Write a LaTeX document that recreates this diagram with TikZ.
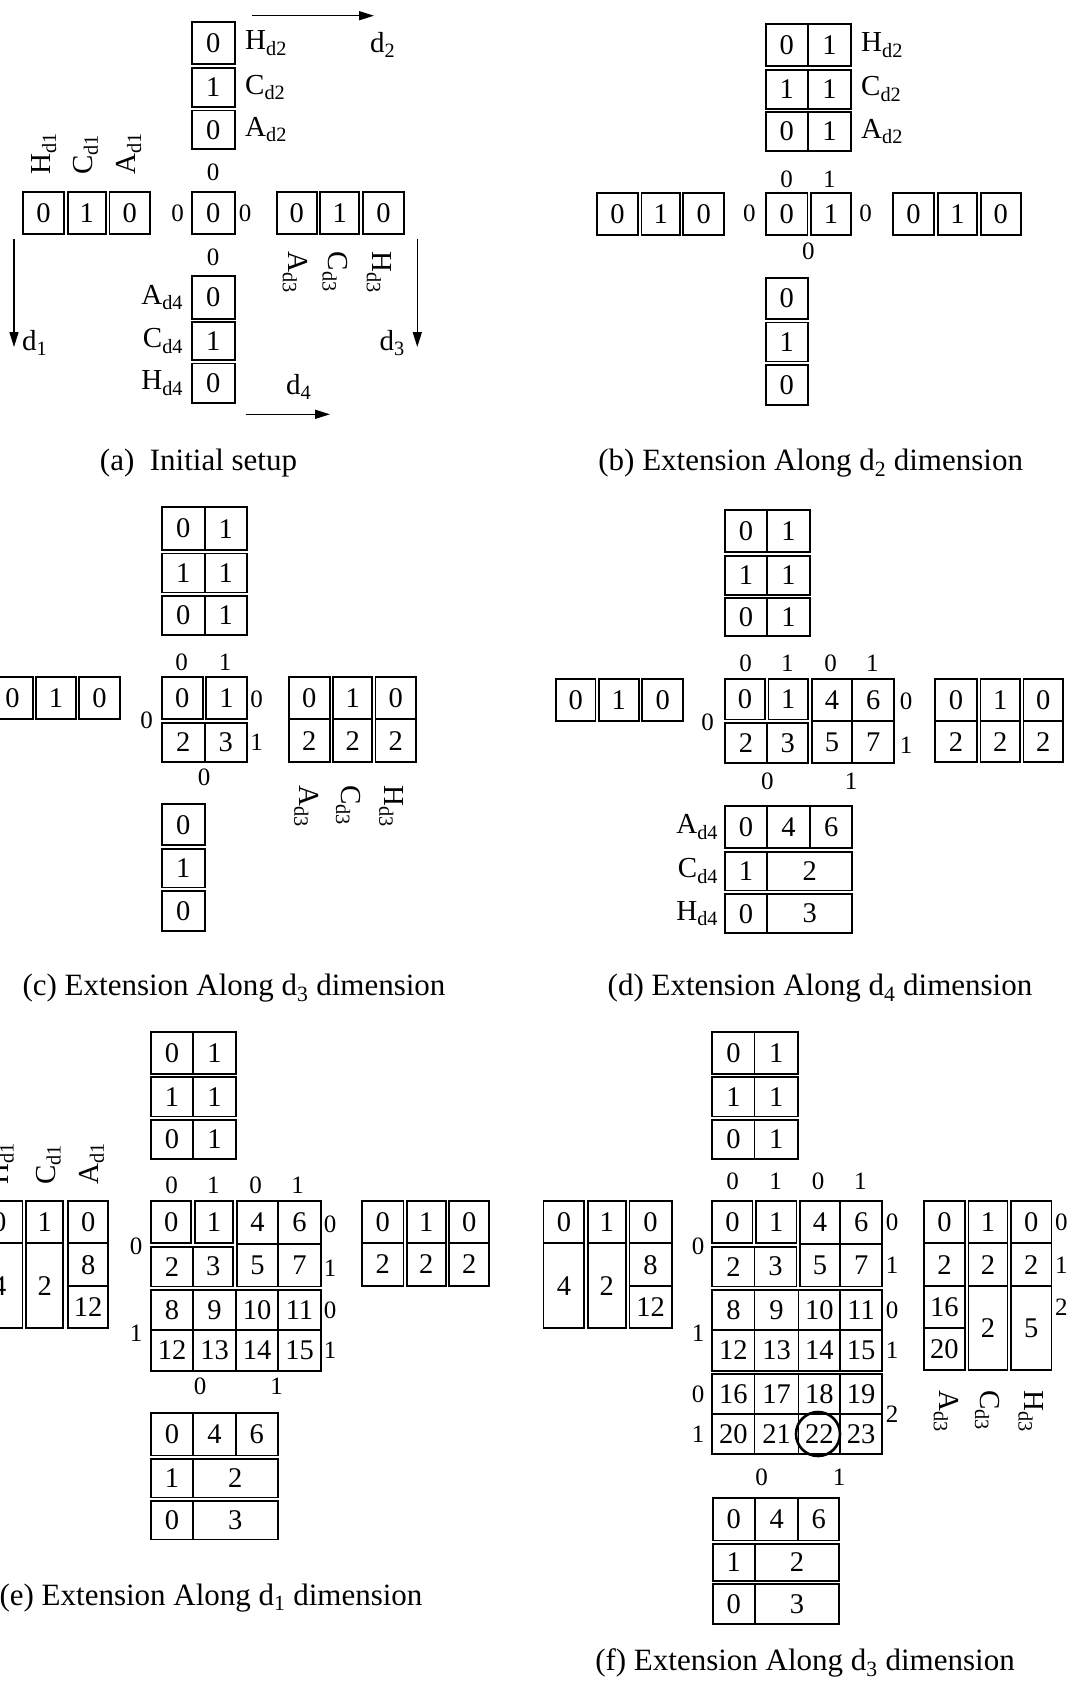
\documentclass[tikz,border=0pt]{standalone}
\usepackage{fontspec}
\setmainfont{Liberation Serif}
\usetikzlibrary{arrows.meta}

% one cell: name, x1, y1, x2, y2, text
\newcommand{\cel}[6]{%
  \pgfmathsetmacro{\celw}{#4-(#2)}%
  \pgfmathsetmacro{\celh}{#5-(#3)}%
  \node[cellbox,minimum width=\celw pt,minimum height=\celh pt] (#1) at ({(#2+#4)/2},{(#3+#5)/2}) {#6};}

\begin{document}
\begin{tikzpicture}[x=1pt,y=-1pt,
  cellbox/.style={draw,line width=1.7pt,inner sep=0pt,font=\fontsize{28.5}{28.5}\selectfont},
  idx/.style={inner sep=0pt,font=\fontsize{25}{25}\selectfont},
  dimlab/.style={inner sep=0pt,font=\fontsize{29}{29}\selectfont},
  captxt/.style={inner sep=0pt,font=\fontsize{31}{31}\selectfont},
  dirarrow/.style={-{Triangle[length=15pt,width=9pt]},line width=1.5pt},
  ring/.style={draw,circle,line width=2.6pt,minimum size=44pt,inner sep=0pt}
]
\useasboundingbox (0,0) rectangle (1073,1682);

% (a) initial setup
\cel{aH2}{191.7}{21.7}{235}{64.3}{0}
\cel{aC2}{191.7}{67.7}{235}{107}{1}
\cel{aA2}{191.7}{110.4}{235}{149}{0}
\node[dimlab,anchor=west] (aH2l) at (245,43) {H\textsubscript{d2}};
\node[dimlab,anchor=west] (aC2l) at (245,87.4) {C\textsubscript{d2}};
\node[dimlab,anchor=west] (aA2l) at (245,129.5) {A\textsubscript{d2}};
\node[idx] (aTop) at (213,172) {0};
\cel{aMid}{191.7}{191.7}{235}{234.3}{0}
\node[idx] (aLeft) at (177.5,213) {0};
\node[idx] (aRight) at (245,213) {0};
\node[idx] (aBot) at (213,257) {0};
\cel{aH1}{22.7}{191.7}{64.3}{234.3}{0}
\cel{aC1}{67.7}{191.7}{106}{234.3}{1}
\cel{aA1}{109.4}{191.7}{150}{234.3}{0}
\node[dimlab,rotate=90,anchor=west] (aH1l) at (44,175) {H\textsubscript{d1}};
\node[dimlab,rotate=90,anchor=west] (aC1l) at (85.5,175) {C\textsubscript{d1}};
\node[dimlab,rotate=90,anchor=west] (aA1l) at (129,175) {A\textsubscript{d1}};
\cel{aA3}{276.7}{191.7}{316.7}{234.3}{0}
\cel{aC3}{320.1}{191.7}{359.3}{234.3}{1}
\cel{aH3}{362.7}{191.7}{404.3}{234.3}{0}
\node[dimlab,rotate=-90,anchor=west] (aA3l) at (295,251.7) {A\textsubscript{d3}};
\node[dimlab,rotate=-90,anchor=west] (aC3l) at (335,251.7) {C\textsubscript{d3}};
\node[dimlab,rotate=-90,anchor=west] (aH3l) at (379,251.7) {H\textsubscript{d3}};
\cel{aA4}{191.7}{276}{235}{318.7}{0}
\cel{aC4}{191.7}{322.1}{235}{360}{1}
\cel{aH4}{191.7}{363.4}{235}{403.3}{0}
\node[dimlab,anchor=east] (aA4l) at (183.3,297.3) {A\textsubscript{d4}};
\node[dimlab,anchor=east] (aC4l) at (183.3,341) {C\textsubscript{d4}};
\node[dimlab,anchor=east] (aH4l) at (183.3,383.3) {H\textsubscript{d4}};
\coordinate (d1s) at (14,239);    \coordinate (d1e) at (14,347);
\coordinate (d3s) at (417.3,239); \coordinate (d3e) at (417.3,347);
\coordinate (d2s) at (252,15.7);  \coordinate (d2e) at (374,15.7);
\coordinate (d4s) at (245.7,414.3); \coordinate (d4e) at (330,414.3);
\draw[dirarrow] (d1s) -- (d1e);
\draw[dirarrow] (d3s) -- (d3e);
\draw[dirarrow] (d2s) -- (d2e);
\draw[dirarrow] (d4s) -- (d4e);
\node[dimlab,anchor=west] (d1l) at (22,343) {d\textsubscript{1}};
\node[dimlab,anchor=east] (d3l) at (405,343) {d\textsubscript{3}};
\node[dimlab,anchor=west] (d2l) at (370,45) {d\textsubscript{2}};
\node[dimlab,anchor=west] (d4l) at (286,387) {d\textsubscript{4}};
\node[captxt] (acap) at (198.5,463.5) {(a)\ \ Initial setup};

% (b) extension along d2
\cel{bH0}{765.7}{24}{808}{66.3}{0}     \cel{bH1}{808}{24}{851}{66.3}{1}
\cel{bC0}{765.7}{69.7}{808}{108.7}{1}  \cel{bC1}{808}{69.7}{851}{108.7}{1}
\cel{bA0}{765.7}{112.1}{808}{151}{0}   \cel{bA1}{808}{112.1}{851}{151}{1}
\node[dimlab,anchor=west] (bH2l) at (861,45.3) {H\textsubscript{d2}};
\node[dimlab,anchor=west] (bC2l) at (861,89.2) {C\textsubscript{d2}};
\node[dimlab,anchor=west] (bA2l) at (861,131.3) {A\textsubscript{d2}};
\node[idx] (bTop0) at (786.7,179) {0};
\node[idx] (bTop1) at (829.3,179) {1};
\cel{bM0}{765.7}{192.7}{807.6}{235}{0}
\cel{bM1}{811}{192.7}{851}{235}{1}
\node[idx] (bLeft) at (749.3,213) {0};
\node[idx] (bRight) at (865.7,213) {0};
\node[idx] (bBot) at (808.3,251.7) {0};
\cel{bLh}{596.7}{192.7}{638.1}{235}{0}
\cel{bLc}{641.5}{192.7}{679.8}{235}{1}
\cel{bLa}{683.2}{192.7}{724.3}{235}{0}
\cel{bRa}{892.7}{192.7}{934.3}{235}{0}
\cel{bRc}{937.7}{192.7}{977.3}{235}{1}
\cel{bRh}{980.7}{192.7}{1020.7}{235}{0}
\cel{bBa}{765.7}{277.7}{808}{319.1}{0}
\cel{bBc}{765.7}{322.5}{808}{361.4}{1}
\cel{bBh}{765.7}{364.8}{808}{405}{0}
\node[captxt] (bcap) at (810.7,463.5) {(b) Extension Along d\textsubscript{2} dimension};

% (c) extension along d3
\cel{cH0}{161.7}{507.3}{204.7}{550}{0}   \cel{cH1}{204.7}{507.3}{247}{550}{1}
\cel{cC0}{161.7}{553.4}{204.7}{592.4}{1} \cel{cC1}{204.7}{553.4}{247}{592.4}{1}
\cel{cA0}{161.7}{595.8}{204.7}{635}{0}   \cel{cA1}{204.7}{595.8}{247}{635}{1}
\node[idx] (cTop0) at (181.7,662.3) {0};
\node[idx] (cTop1) at (225,662.3) {1};
\cel{c0}{161.7}{676.7}{202.8}{719.3}{0}
\cel{c1}{206.2}{676.7}{247}{719.3}{1}
\cel{c2}{161.7}{722.7}{204.7}{762.3}{2}
\cel{c3}{204.7}{722.7}{247}{762.3}{3}
\node[idx] (cLeft) at (146.7,720) {0};
\node[idx] (cRight0) at (256.7,699) {0};
\node[idx] (cRight1) at (256.7,742.3) {1};
\node[idx] (cBot) at (204,777.7) {0};
\cel{cLh}{-7.7}{676.7}{32.8}{719}{0}
\cel{cLc}{36.2}{676.7}{75.8}{719}{1}
\cel{cLa}{79.2}{676.7}{120}{719}{0}
\cel{cRa0}{288.7}{676.7}{329.8}{719}{0}   \cel{cRa1}{288.7}{719}{329.8}{762.3}{2}
\cel{cRc0}{333.2}{676.7}{372.1}{719}{1}   \cel{cRc1}{333.2}{719}{372.1}{762.3}{2}
\cel{cRh0}{375.5}{676.7}{416}{719}{0}     \cel{cRh1}{375.5}{719}{416}{762.3}{2}
\node[dimlab,rotate=-90,anchor=west] (cA3l) at (306.5,785) {A\textsubscript{d3}};
\node[dimlab,rotate=-90,anchor=west] (cC3l) at (348.5,785) {C\textsubscript{d3}};
\node[dimlab,rotate=-90,anchor=west] (cH3l) at (391.5,785) {H\textsubscript{d3}};
\cel{cBa}{161.7}{804}{204.7}{845.3}{0}
\cel{cBc}{161.7}{848.7}{204.7}{887.6}{1}
\cel{cBh}{161.7}{891}{204.7}{931}{0}
\node[captxt] (ccap) at (234,988) {(c) Extension Along d\textsubscript{3} dimension};

% (d) extension along d4
\cel{dH0}{725}{510}{767}{552.3}{0}     \cel{dH1}{767}{510}{810}{552.3}{1}
\cel{dC0}{725}{555.7}{767}{594.7}{1}   \cel{dC1}{767}{555.7}{810}{594.7}{1}
\cel{dA0}{725}{598.1}{767}{636}{0}     \cel{dA1}{767}{598.1}{810}{636}{1}
\node[idx] (dTop0) at (745.7,663.3) {0};
\node[idx] (dTop1) at (787.3,663.3) {1};
\node[idx] (dTop2) at (830.7,663.3) {0};
\node[idx] (dTop3) at (872.3,663.3) {1};
\cel{d0}{725}{679}{765}{719.5}{0}
\cel{d1}{768.4}{679}{808.3}{719.5}{1}
\cel{d2}{725}{722.9}{767}{763}{2}
\cel{d3}{767}{722.9}{808.3}{763}{3}
\cel{d4}{811.7}{679}{852.3}{721}{4}
\cel{d6}{852.3}{679}{894}{721}{6}
\cel{d5}{811.7}{721}{852.3}{763}{5}
\cel{d7}{852.3}{721}{894}{763}{7}
\node[idx] (dLeft) at (707.7,722.3) {0};
\node[idx] (dRight0) at (906,701) {0};
\node[idx] (dRight1) at (906,745.7) {1};
\node[idx] (dBot0) at (767.3,781) {0};
\node[idx] (dBot1) at (851,781) {1};
\cel{dLh}{556}{679}{595.4}{721}{0}
\cel{dLc}{598.8}{679}{638.8}{721}{1}
\cel{dLa}{642.2}{679}{683.3}{721}{0}
\cel{dRa0}{935}{679}{977.2}{721}{0}     \cel{dRa1}{935}{721}{977.2}{762.3}{2}
\cel{dRc0}{980.6}{679}{1020}{721}{1}    \cel{dRc1}{980.6}{721}{1020}{762.3}{2}
\cel{dRh0}{1023.4}{679}{1063.3}{721}{0} \cel{dRh1}{1023.4}{721}{1063.3}{762.3}{2}
\cel{dBa0}{725}{805.7}{767}{848.3}{0}
\cel{dBa1}{767}{805.7}{810}{848.3}{4}
\cel{dBa2}{810}{805.7}{852.3}{848.3}{6}
\cel{dBc0}{725}{851.7}{767}{890.6}{1}
\cel{dBc1}{767}{851.7}{852.3}{890.6}{2}
\cel{dBh0}{725}{894}{767}{933.3}{0}
\cel{dBh1}{767}{894}{852.3}{933.3}{3}
\node[dimlab,anchor=east] (dA4l) at (718.3,827) {A\textsubscript{d4}};
\node[dimlab,anchor=east] (dC4l) at (718.3,871.2) {C\textsubscript{d4}};
\node[dimlab,anchor=east] (dH4l) at (718.3,913.7) {H\textsubscript{d4}};
\node[captxt] (dcap) at (820,988) {(d) Extension Along d\textsubscript{4} dimension};

% (e) extension along d1
\cel{eH0}{151}{1031.7}{193}{1073.9}{0}   \cel{eH1}{193}{1031.7}{236}{1073.9}{1}
\cel{eC0}{151}{1077.3}{193}{1116.6}{1}   \cel{eC1}{193}{1077.3}{236}{1116.6}{1}
\cel{eA0}{151}{1120}{193}{1159}{0}       \cel{eA1}{193}{1120}{236}{1159}{1}
\node[idx] (eTop0) at (171.7,1185.7) {0};
\node[idx] (eTop1) at (213.3,1185.7) {1};
\node[idx] (eTop2) at (255.7,1185.7) {0};
\node[idx] (eTop3) at (297.7,1185.7) {1};
\cel{e0}{151}{1201}{191.3}{1243.3}{0}
\cel{e1}{194.7}{1201}{233.3}{1243.3}{1}
\cel{e2}{151}{1246.7}{193}{1286.6}{2}
\cel{e3}{193}{1246.7}{233.3}{1286.6}{3}
\cel{e4}{236.7}{1201}{278.3}{1244}{4}
\cel{e6}{278.3}{1201}{320.7}{1244}{6}
\cel{e5}{236.7}{1244}{278.3}{1286.6}{5}
\cel{e7}{278.3}{1244}{320.7}{1286.6}{7}
\cel{e8}{151}{1290}{193}{1330}{8}
\cel{e9}{193}{1290}{236}{1330}{9}
\cel{e10}{236}{1290}{278.3}{1330}{10}
\cel{e11}{278.3}{1290}{320.7}{1330}{11}
\cel{e12}{151}{1330}{193}{1371}{12}
\cel{e13}{193}{1330}{236}{1371}{13}
\cel{e14}{236}{1330}{278.3}{1371}{14}
\cel{e15}{278.3}{1330}{320.7}{1371}{15}
\node[idx] (eRight0) at (330,1224) {0};
\node[idx] (eRight1) at (330,1268.3) {1};
\node[idx] (eRight2) at (330,1310) {0};
\node[idx] (eRight3) at (330,1350) {1};
\node[idx] (eLeft0) at (136,1246.7) {0};
\node[idx] (eLeft1) at (136,1333.3) {1};
\node[idx] (eBot0) at (200,1386.7) {0};
\node[idx] (eBot1) at (276.7,1386.7) {1};
\cel{eLh0}{-24}{1201}{22.5}{1243.3}{0}    \cel{eLh1}{-24}{1243.3}{22.5}{1328.3}{4}
\cel{eLc0}{26}{1201}{63.3}{1243.3}{1}     \cel{eLc1}{26}{1243.3}{63.3}{1328.3}{2}
\cel{eLa0}{68}{1201}{108.3}{1243.3}{0}
\cel{eLa1}{68}{1243.3}{108.3}{1286}{8}
\cel{eLa2}{68}{1286}{108.3}{1328.3}{12}
\node[dimlab,rotate=90,anchor=west] (eH1l) at (1.5,1185) {H\textsubscript{d1}};
\node[dimlab,rotate=90,anchor=west] (eC1l) at (48.3,1185) {C\textsubscript{d1}};
\node[dimlab,rotate=90,anchor=west] (eA1l) at (91.7,1185) {A\textsubscript{d1}};
\cel{eRa0}{361.7}{1201}{403.6}{1243.3}{0}   \cel{eRa1}{361.7}{1243.3}{403.6}{1285.7}{2}
\cel{eRc0}{407}{1201}{445.7}{1243.3}{1}     \cel{eRc1}{407}{1243.3}{445.7}{1285.7}{2}
\cel{eRh0}{449.1}{1201}{489.3}{1243.3}{0}   \cel{eRh1}{449.1}{1243.3}{489.3}{1285.7}{2}
\cel{eBa0}{151}{1412.7}{193}{1455.6}{0}
\cel{eBa1}{193}{1412.7}{236}{1455.6}{4}
\cel{eBa2}{236}{1412.7}{277.7}{1455.6}{6}
\cel{eBc0}{151}{1459}{193}{1497.6}{1}
\cel{eBc1}{193}{1459}{277.7}{1497.6}{2}
\cel{eBh0}{151}{1501}{193}{1539.5}{0}
\cel{eBh1}{193}{1501}{277.7}{1539.5}{3}
\node[captxt] (ecap) at (211,1597.7) {(e) Extension Along d\textsubscript{1} dimension};

% (f) extension along d3
\cel{fH0}{712.2}{1031.7}{754.6}{1073.9}{0}   \cel{fH1}{754.6}{1031.7}{798}{1073.9}{1}
\cel{fC0}{712.2}{1077.3}{754.6}{1116.6}{1}   \cel{fC1}{754.6}{1077.3}{798}{1116.6}{1}
\cel{fA0}{712.2}{1120}{754.6}{1159}{0}       \cel{fA1}{754.6}{1120}{798}{1159}{1}
\node[idx] (fTop0) at (732.7,1181) {0};
\node[idx] (fTop1) at (775.7,1181) {1};
\node[idx] (fTop2) at (818,1181) {0};
\node[idx] (fTop3) at (860.4,1181) {1};
\cel{f0}{712.2}{1201}{752.6}{1243.3}{0}
\cel{f1}{756}{1201}{796.4}{1243.3}{1}
\cel{f2}{712.2}{1246.7}{754.6}{1286.6}{2}
\cel{f3}{754.6}{1246.7}{796.4}{1286.6}{3}
\cel{f4}{799.8}{1201}{840.2}{1244}{4}
\cel{f6}{840.2}{1201}{882.2}{1244}{6}
\cel{f5}{799.8}{1244}{840.2}{1286.6}{5}
\cel{f7}{840.2}{1244}{882.2}{1286.6}{7}
\cel{f8}{712.2}{1290}{754.6}{1330}{8}
\cel{f9}{754.6}{1290}{798.6}{1330}{9}
\cel{f10}{798.6}{1290}{840.2}{1330}{10}
\cel{f11}{840.2}{1290}{882.2}{1330}{11}
\cel{f12}{712.2}{1330}{754.6}{1370.9}{12}
\cel{f13}{754.6}{1330}{798.6}{1370.9}{13}
\cel{f14}{798.6}{1330}{840.2}{1370.9}{14}
\cel{f15}{840.2}{1330}{882.2}{1370.9}{15}
\cel{f16}{712.2}{1374.3}{754.6}{1414}{16}
\cel{f17}{754.6}{1374.3}{798.6}{1414}{17}
\cel{f18}{798.6}{1374.3}{840.2}{1414}{18}
\cel{f19}{840.2}{1374.3}{882.2}{1414}{19}
\cel{f20}{712.2}{1414}{754.6}{1454}{20}
\cel{f21}{754.6}{1414}{798.6}{1454}{21}
\cel{f22}{798.6}{1414}{840.2}{1454}{22}
\cel{f23}{840.2}{1414}{882.2}{1454}{23}
\node[ring] (fring) at (818,1434) {};
\node[idx] (fRight0) at (892,1222) {0};
\node[idx] (fRight1) at (892,1265) {1};
\node[idx] (fRight2) at (892,1310) {0};
\node[idx] (fRight3) at (892,1350) {1};
\node[idx] (fRight4) at (892,1414) {2};
\node[idx] (fLeft0) at (698,1246.7) {0};
\node[idx] (fLeft1) at (698,1333.3) {1};
\node[idx] (fLeft2) at (698,1394) {0};
\node[idx] (fLeft3) at (698,1434) {1};
\node[idx] (fBot0) at (761.6,1477) {0};
\node[idx] (fBot1) at (839.2,1477) {1};
\cel{fLh0}{543.6}{1201}{584.2}{1243.3}{0}    \cel{fLh1}{543.6}{1243.3}{584.2}{1328.3}{4}
\cel{fLc0}{587.7}{1201}{625.8}{1243.3}{1}    \cel{fLc1}{587.7}{1243.3}{625.8}{1328.3}{2}
\cel{fLa0}{629.5}{1201}{671.7}{1243.3}{0}
\cel{fLa1}{629.5}{1243.3}{671.7}{1286}{8}
\cel{fLa2}{629.5}{1286}{671.7}{1328.3}{12}
\cel{fRa0}{923.8}{1201}{965.1}{1243.3}{0}
\cel{fRa1}{923.8}{1243.3}{965.1}{1286}{2}
\cel{fRa2}{923.8}{1286}{965.1}{1328}{16}
\cel{fRa3}{923.8}{1328}{965.1}{1370}{20}
\cel{fRc0}{968.6}{1201}{1007.4}{1243.3}{1}
\cel{fRc1}{968.6}{1243.3}{1007.4}{1286}{2}
\cel{fRc2}{968.6}{1286}{1007.4}{1370}{2}
\cel{fRh0}{1011}{1201}{1051.5}{1243.3}{0}
\cel{fRh1}{1011}{1243.3}{1051.5}{1286}{2}
\cel{fRh2}{1011}{1286}{1051.5}{1370}{5}
\node[idx] (fRR0) at (1061.4,1222) {0};
\node[idx] (fRR1) at (1061.4,1265) {1};
\node[idx] (fRR2) at (1061.4,1307.7) {2};
\node[dimlab,rotate=-90,anchor=west] (fA3l) at (946,1390) {A\textsubscript{d3}};
\node[dimlab,rotate=-90,anchor=west] (fC3l) at (987.3,1390) {C\textsubscript{d3}};
\node[dimlab,rotate=-90,anchor=west] (fH3l) at (1030.7,1390) {H\textsubscript{d3}};
\cel{fBa0}{712.7}{1497.7}{755}{1540.6}{0}
\cel{fBa1}{755}{1497.7}{798.3}{1540.6}{4}
\cel{fBa2}{798.3}{1497.7}{839}{1540.6}{6}
\cel{fBc0}{712.7}{1544}{755}{1580.9}{1}
\cel{fBc1}{755}{1544}{839}{1580.9}{2}
\cel{fBh0}{712.7}{1584.3}{755}{1624}{0}
\cel{fBh1}{755}{1584.3}{839}{1624}{3}
\node[captxt] (fcap) at (805,1663) {(f) Extension Along d\textsubscript{3} dimension};
\end{tikzpicture}
\end{document}
